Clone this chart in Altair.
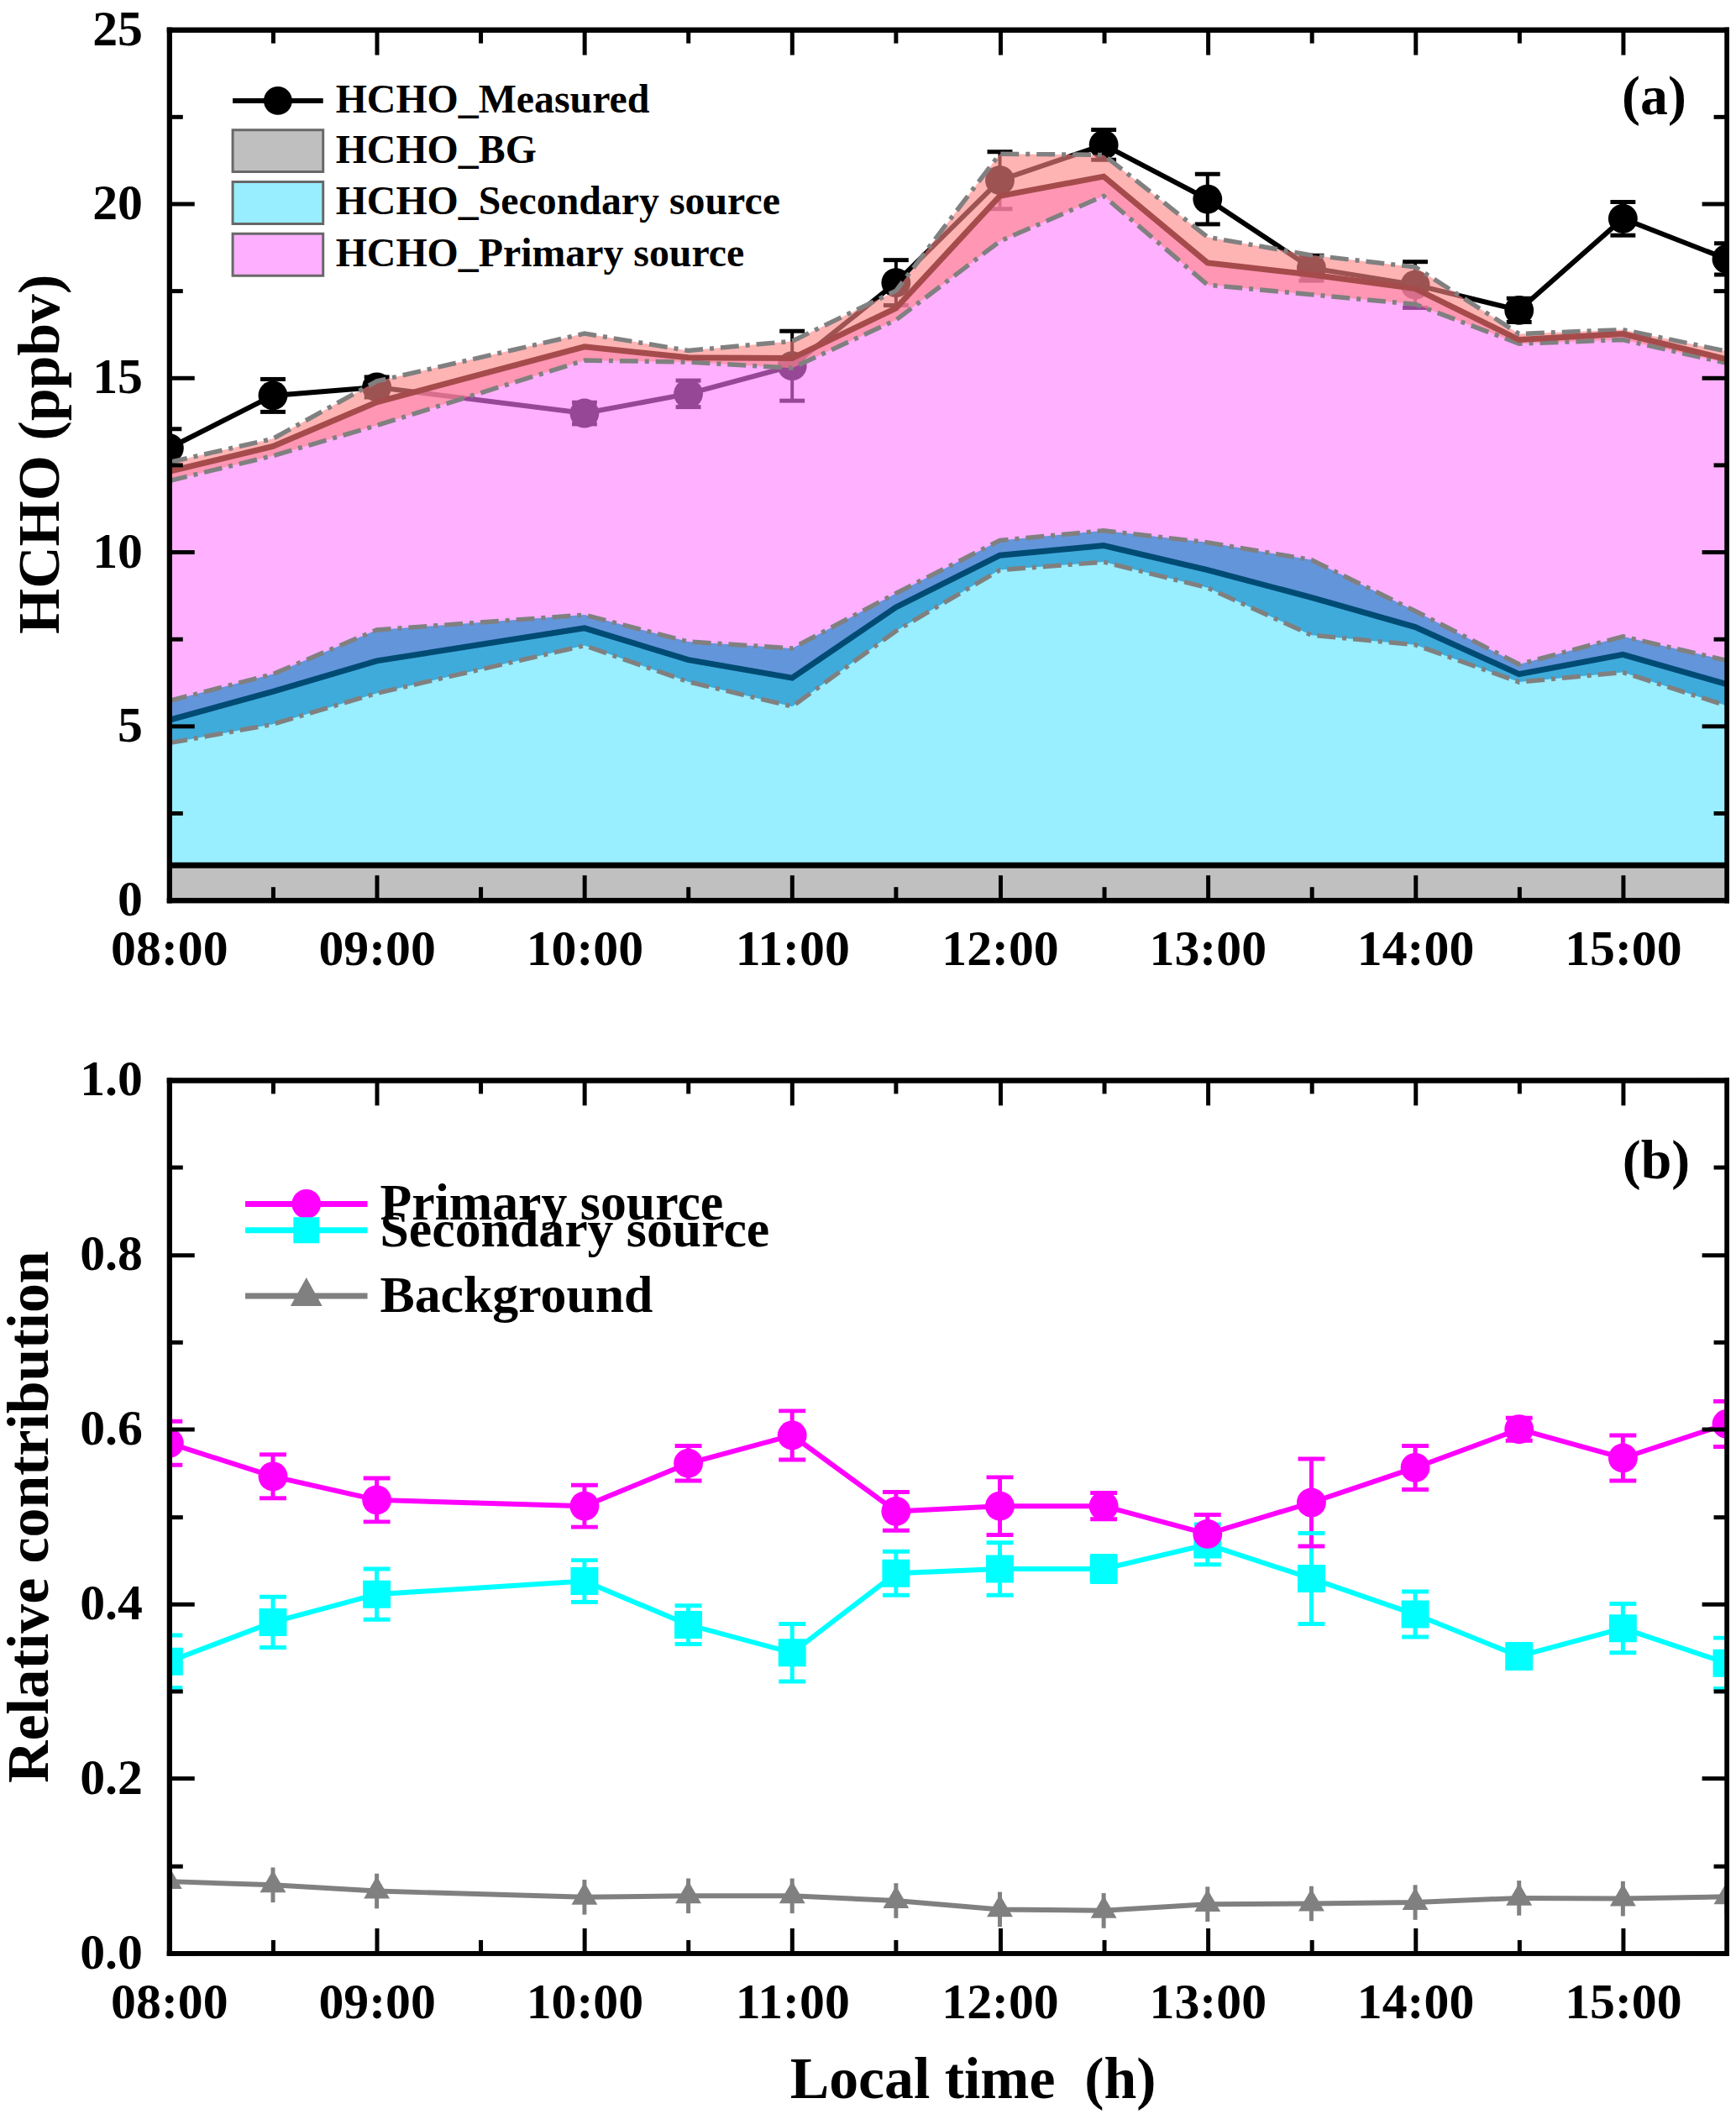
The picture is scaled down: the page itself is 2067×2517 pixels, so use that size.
import math

import altair as alt
import pandas as pd

FONT = "Liberation Serif"

# sampling times, decimal hours (no sample at 09:30)
hours = [8.0, 8.5, 9.0, 10.0, 10.5, 11.0, 11.5, 12.0, 12.5, 13.0, 13.5, 14.0, 14.5, 15.0, 15.5]
hour_ticks = [8, 9, 10, 11, 12, 13, 14, 15]
half_hour_ticks = [8.5, 9.5, 10.5, 11.5, 12.5, 13.5, 14.5]

# ---- panel (a): HCHO, ppbv ----
measured = [12.98, 14.49, 14.73, 13.98, 14.54, 15.34, 17.73, 20.67, 21.69, 20.13, 18.15, 17.67, 16.94, 19.57, 18.41]
measured_err = [0.55, 0.47, 0.29, 0.31, 0.38, 1.0, 0.65, 0.82, 0.43, 0.72, 0.36, 0.66, 0.34, 0.48, 0.45]
bg_level = [1.0, 1.0, 1.0, 1.0, 1.0, 1.0, 1.0, 1.0, 1.0, 1.0, 1.0, 1.0, 1.0, 1.0, 1.0]
sec_mid = [5.17, 5.99, 6.87, 7.81, 6.90, 6.38, 8.41, 9.90, 10.18, 9.48, 8.69, 7.84, 6.49, 7.05, 6.20]
sec_hi = [5.72, 6.49, 7.76, 8.19, 7.42, 7.23, 8.81, 10.33, 10.61, 10.27, 9.77, 8.30, 6.77, 7.57, 6.88]
sec_lo = [4.51, 5.05, 5.94, 7.31, 6.27, 5.56, 7.73, 9.48, 9.71, 8.97, 7.61, 7.33, 6.26, 6.54, 5.58]
tot_mid = [12.31, 13.03, 14.30, 15.89, 15.58, 15.56, 17.00, 20.22, 20.78, 18.30, 17.96, 17.56, 16.09, 16.26, 15.53]
tot_hi = [12.57, 13.25, 14.90, 16.27, 15.78, 16.05, 17.50, 21.43, 21.40, 19.04, 18.52, 18.18, 16.26, 16.38, 15.76]
tot_lo = [12.04, 12.76, 13.63, 15.50, 15.45, 15.28, 16.66, 18.92, 20.22, 17.67, 17.39, 17.11, 15.98, 16.09, 15.42]

# ---- panel (b): relative contribution ----
primary = [0.584, 0.546, 0.519, 0.512, 0.561, 0.593, 0.506, 0.512, 0.512, 0.480, 0.516, 0.556, 0.600, 0.567, 0.606]
primary_err = [0.025, 0.025, 0.025, 0.024, 0.020, 0.028, 0.022, 0.033, 0.015, 0.022, 0.050, 0.025, 0.013, 0.026, 0.026]
secondary = [0.334, 0.379, 0.411, 0.426, 0.376, 0.344, 0.435, 0.440, 0.440, 0.468, 0.429, 0.388, 0.340, 0.372, 0.332]
secondary_err = [0.030, 0.029, 0.029, 0.024, 0.022, 0.033, 0.025, 0.030, 0.015, 0.023, 0.052, 0.026, 0.014, 0.028, 0.029]
background = [0.082, 0.078, 0.071, 0.064, 0.0655, 0.0655, 0.060, 0.050, 0.0486, 0.056, 0.0566, 0.058, 0.063, 0.0623, 0.0645]
background_err = [0.02, 0.02, 0.02, 0.02, 0.02, 0.02, 0.02, 0.02, 0.02, 0.02, 0.02, 0.02, 0.02, 0.02, 0.02]

area_parts = ["HCHO_BG", "HCHO_Secondary source", "HCHO_Primary source"]
series_b = ["Primary source", "Secondary source", "Background"]
colors_b = ["#FF00FF", "#00FFFF", "#808080"]

# panel tags, placed in data coordinates
tag_a = {"hour": [15.15], "val": [22.58], "text": ["(a)"]}
tag_b = {"hour": [15.16], "val": [0.887], "text": ["(b)"]}

W = 1861
H_A = 1040
H_B = 1043

df_meas = pd.DataFrame({
    "hour": hours, "value": measured,
    "lo": [m - e for m, e in zip(measured, measured_err)],
    "hi": [m + e for m, e in zip(measured, measured_err)],
    "series": ["HCHO_Measured"] * len(hours),
})
df_model = pd.DataFrame({
    "hour": hours, "bg": bg_level, "sec_mid": sec_mid, "sec_lo": sec_lo, "sec_hi": sec_hi,
    "tot_mid": tot_mid, "tot_lo": tot_lo, "tot_hi": tot_hi,
})
area_rows = []
for i, h in enumerate(hours):
    area_rows.append({"hour": h, "part": area_parts[0], "low": 0.0, "high": bg_level[i]})
    area_rows.append({"hour": h, "part": area_parts[1], "low": bg_level[i], "high": sec_mid[i]})
    area_rows.append({"hour": h, "part": area_parts[2], "low": sec_mid[i], "high": tot_mid[i]})
df_area = pd.DataFrame(area_rows)

rows_b = []
for name, vals, errs in [("Background", background, background_err),
                         ("Secondary source", secondary, secondary_err),
                         ("Primary source", primary, primary_err)]:
    for h, v, e in zip(hours, vals, errs):
        rows_b.append({"hour": h, "series": name, "value": v, "lo": v - e, "hi": v + e})
df_b = pd.DataFrame(rows_b)

x_scale = alt.Scale(domain=[8, 15.5], nice=False, zero=False)
ya_scale = alt.Scale(domain=[0, 25], nice=False)
yb_scale = alt.Scale(domain=[0, 1], nice=False)


def frame_axis(orient, values, length, **extra):
    # ticks point into the plot, like the original figure
    opts = dict(orient=orient, values=values, tickSize={"expr": str(-length)}, tickWidth=5,
                tickColor="black", domainWidth=6, domainColor="black", domainCap="square",
                grid=False, labels=False, title=None, zindex=1)
    opts.update(extra)
    return alt.Axis(**opts)


label_style = dict(labels=True, labelFont=FONT, labelFontSize=60, labelFontWeight="bold",
                   labelColor="black", labelFlush=False, labelOverlap=False, labelLimit=500)
title_style = dict(titleFont=FONT, titleFontSize=70, titleFontWeight="bold", titleColor="black")

x_hour_labels = "(datum.value < 10 ? '0' : '') + datum.value + ':00'"


def xenc(axis):
    return alt.X("hour:Q", scale=x_scale, axis=axis)


def ring(r, n=32):
    # closed polygon approximating a disc, for legend symbol paths
    pts = [(r * math.cos(2 * math.pi * k / n), r * math.sin(2 * math.pi * k / n)) for k in range(n)]
    return "M" + "L".join(f"{x:.4f},{y:.4f}" for x, y in pts) + "Z"


# legend symbols: nominal size 20 px (10 px per path unit), long paths drawn around it
legend_text = dict(labelFont=FONT, labelFontWeight="bold", labelColor="black", labelLimit=1000,
                   direction="vertical", title=None, padding=0, offset=0, orient="none",
                   symbolSize=400, symbolOffset=0)

# ---------------- panel (a) ----------------
meas_legend = alt.Legend(
    legendX=106, legendY=61, labelFontSize=48, labelOffset=45, rowPadding=0,
    symbolType="M-5.4,-0.3H5.4V0.3H-5.4Z " + ring(1.7),
    **legend_text,
)
area_legend = alt.Legend(
    legendX=106, legendY=121, labelFontSize=48, labelOffset=45, rowPadding=0,
    symbolType="M-5.4,-2.5H5.4V2.5H-5.4Z",
    symbolOpacity=0.59, symbolStrokeColor="black", symbolStrokeWidth=3,
    **legend_text,
)

meas_rules = alt.Chart(df_meas).mark_rule(color="black", strokeWidth=4, clip=True).encode(
    x=xenc(frame_axis("bottom", hour_ticks, 30, labelExpr=x_hour_labels, labelPadding=60, **label_style)),
    y=alt.Y("lo:Q", scale=ya_scale,
            axis=frame_axis("left", [0, 5, 10, 15, 20, 25], 30, format="d", labelPadding=62,
                            title="HCHO (ppbv)", titleAngle=270, titleBaseline="alphabetic",
                            titleAlign="center", titleX=-132, titleY=507, **label_style, **title_style)),
    y2="hi:Q",
)
meas_caps = alt.Chart(df_meas).transform_fold(["lo", "hi"], as_=["end", "cap"]).mark_tick(
    orient="horizontal", color="black", size=30, thickness=5, opacity=1, clip=True
).encode(
    x=xenc(frame_axis("bottom", half_hour_ticks, 16)),
    y=alt.Y("cap:Q", scale=ya_scale, axis=frame_axis("left", [2.5, 7.5, 12.5, 17.5, 22.5], 16)),
)
meas_line = alt.Chart(df_meas).mark_line(color="black", strokeWidth=6, clip=True).encode(
    x=xenc(frame_axis("top", hour_ticks, 30)),
    y=alt.Y("value:Q", scale=ya_scale, axis=frame_axis("right", [0, 5, 10, 15, 20, 25], 30)),
)
meas_pts = alt.Chart(df_meas).mark_point(filled=True, size=1225, opacity=1, clip=True).encode(
    x=xenc(frame_axis("top", half_hour_ticks, 16)),
    y=alt.Y("value:Q", scale=ya_scale, axis=frame_axis("right", [2.5, 7.5, 12.5, 17.5, 22.5], 16)),
    color=alt.Color("series:N", scale=alt.Scale(domain=["HCHO_Measured"], range=["black"]),
                    legend=meas_legend),
)

areas = alt.Chart(df_area).mark_area(fillOpacity=0.59, clip=True).encode(
    x=xenc(None),
    y=alt.Y("low:Q", scale=ya_scale, axis=None),
    y2="high:Q",
    fill=alt.Fill("part:N", scale=alt.Scale(domain=area_parts, range=["#949494", "#52E2FF", "#FF79FF"]),
                  legend=area_legend),
)
sec_band = alt.Chart(df_model).mark_area(color="#0F87C8", opacity=0.65, clip=True).encode(
    x=xenc(None), y=alt.Y("sec_lo:Q", scale=ya_scale, axis=None), y2="sec_hi:Q")
tot_band = alt.Chart(df_model).mark_area(color="#FF8686", opacity=0.62, clip=True).encode(
    x=xenc(None), y=alt.Y("tot_lo:Q", scale=ya_scale, axis=None), y2="tot_hi:Q")
bound_lines = alt.Chart(df_model).transform_fold(
    ["sec_lo", "sec_hi", "tot_lo", "tot_hi"], as_=["bound", "level"]
).mark_line(color="#808080", strokeWidth=5.5, strokeDash=[22, 8, 5, 8], clip=True).encode(
    x=xenc(None), y=alt.Y("level:Q", scale=ya_scale, axis=None), detail="bound:N")
sec_line = alt.Chart(df_model).mark_line(color="#004B73", strokeWidth=7, clip=True).encode(
    x=xenc(None), y=alt.Y("sec_mid:Q", scale=ya_scale, axis=None))
tot_line = alt.Chart(df_model).mark_line(color="#A64B4B", strokeWidth=7, clip=True).encode(
    x=xenc(None), y=alt.Y("tot_mid:Q", scale=ya_scale, axis=None))
bg_line = alt.Chart(df_model).mark_line(color="black", strokeWidth=7, clip=True).encode(
    x=xenc(None), y=alt.Y("bg:Q", scale=ya_scale, axis=None))
text_a = alt.Chart(pd.DataFrame(tag_a)).mark_text(
    font=FONT, fontSize=66, fontWeight="bold", color="black", align="center", baseline="alphabetic"
).encode(x=xenc(None), y=alt.Y("val:Q", scale=ya_scale, axis=None), text="text:N")

panel_a = alt.layer(
    meas_rules, meas_caps, meas_line, meas_pts, areas, sec_band, tot_band,
    bound_lines, sec_line, tot_line, bg_line, text_a,
).resolve_axis(x="independent", y="independent").properties(width=W, height=H_A)

# ---------------- panel (b) ----------------
line_part = "M-7.3,-0.35H7.3V0.35H-7.3Z"
key_shapes = [
    line_part + " " + ring(1.75),
    line_part + " M-1.55,-1.55H1.55V1.55H-1.55Z",
    line_part + " M0,-2.2L1.9,1.2H-1.9Z",
]
# first key sits 47 px lower than its nominal spot in this renderer, so it gets a larger offset
key_rows_y = [117, 148.5, 227]
color_b = alt.Scale(domain=series_b, range=colors_b)

rules_b = alt.Chart(df_b).mark_rule(strokeWidth=5, clip=True).encode(
    x=xenc(frame_axis("bottom", hour_ticks, 30, labelExpr=x_hour_labels, labelPadding=60,
                      title="Local time\u00a0\u00a0(h)", titleBaseline="alphabetic", titleAlign="center",
                      titleX=960, titleY=173, **label_style, **title_style)),
    y=alt.Y("lo:Q", scale=yb_scale,
            axis=frame_axis("left", [0, 0.2, 0.4, 0.6, 0.8, 1.0], 30, format=".1f", labelPadding=62,
                            title="Relative contribution", titleAngle=270, titleBaseline="alphabetic",
                            titleAlign="center", titleX=-145, **label_style, **title_style)),
    y2="hi:Q",
    color=alt.Color("series:N", scale=color_b, legend=None),
)
caps_b = alt.Chart(df_b).transform_filter("datum.series != 'Background'").transform_fold(
    ["lo", "hi"], as_=["end", "cap"]
).mark_tick(orient="horizontal", size=32, thickness=5, opacity=1, clip=True).encode(
    x=xenc(frame_axis("bottom", half_hour_ticks, 16)),
    y=alt.Y("cap:Q", scale=yb_scale, axis=frame_axis("left", [0.1, 0.3, 0.5, 0.7, 0.9], 16)),
    color=alt.Color("series:N", scale=color_b, legend=None),
)
lines_b = alt.Chart(df_b).mark_line(strokeWidth=6, clip=True).encode(
    x=xenc(frame_axis("top", hour_ticks, 30)),
    y=alt.Y("value:Q", scale=yb_scale, axis=frame_axis("right", [0, 0.2, 0.4, 0.6, 0.8, 1.0], 30)),
    color=alt.Color("series:N", scale=color_b, legend=None),
)
pts_b = alt.Chart(df_b).mark_point(filled=True, opacity=1, clip=True).encode(
    x=xenc(frame_axis("top", half_hour_ticks, 16)),
    y=alt.Y("value:Q", scale=yb_scale, axis=frame_axis("right", [0.1, 0.3, 0.5, 0.7, 0.9], 16)),
    color=alt.Color("series:N", scale=color_b, legend=None),
    shape=alt.Shape("series:N", scale=alt.Scale(domain=series_b,
                    range=["circle", "square", "M0,-1.15L1,0.58L-1,0.58Z"]), legend=None),
    size=alt.Size("series:O", scale=alt.Scale(domain=series_b, range=[1225, 961, 1444]), legend=None),
)

# one single-entry legend per series (line-plus-marker symbol); these layers draw nothing
key_layers = []
for name, col, shape, ly in zip(series_b, colors_b, key_shapes, key_rows_y):
    key_legend = alt.Legend(legendX=133, legendY=ly, labelFontSize=62, labelOffset=57, rowPadding=0,
                            symbolType=shape, **legend_text)
    key_layers.append(
        alt.Chart(df_b).transform_filter("false").mark_point(filled=True, opacity=1).encode(
            x=xenc(None),
            y=alt.Y("value:Q", scale=yb_scale, axis=None),
            color=alt.Color("series:N", scale=alt.Scale(domain=[name], range=[col]), legend=key_legend),
        )
    )

text_b = alt.Chart(pd.DataFrame(tag_b)).mark_text(
    font=FONT, fontSize=66, fontWeight="bold", color="black", align="center", baseline="alphabetic"
).encode(x=xenc(None), y=alt.Y("val:Q", scale=yb_scale, axis=None), text="text:N")

panel_b = alt.layer(rules_b, caps_b, lines_b, pts_b, *key_layers, text_b).resolve_axis(
    x="independent", y="independent"
).resolve_scale(color="independent", shape="independent", size="independent").properties(width=W, height=H_B)

chart = alt.vconcat(
    panel_a, panel_b, spacing=215, bounds="flush",
    padding={"left": -8, "top": -7, "right": 0, "bottom": 0},
).resolve_scale(
    x="independent", y="independent", color="independent", fill="independent",
    shape="independent", size="independent",
).resolve_axis(x="independent", y="independent").configure(font=FONT).configure_view(stroke=None)

chart.save("out.html", embed_options={"renderer": "svg", "actions": False})
